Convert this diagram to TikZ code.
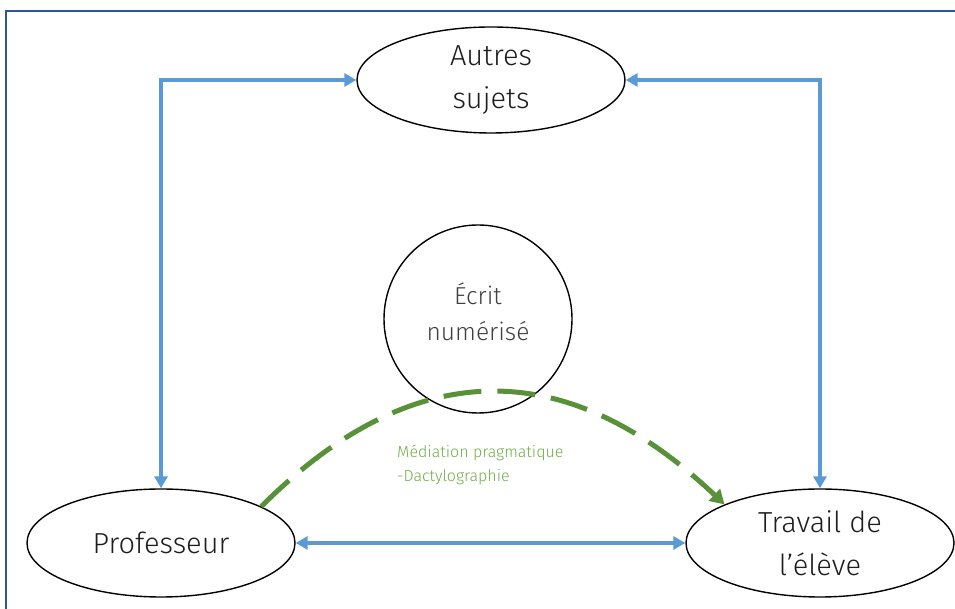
\documentclass[tikz,border=0pt]{standalone}
\usepackage{fontspec}
\setmainfont{Fira Sans}[UprightFont=* Light]
\usetikzlibrary{shapes.geometric,arrows.meta}
\definecolor{framecol}{RGB}{47,85,151}
\definecolor{bluearr}{RGB}{91,155,213}
\definecolor{greenarr}{RGB}{88,145,56}
\definecolor{greentxt}{RGB}{112,173,71}
\definecolor{txt}{RGB}{30,30,30}
\tikzset{
  oval/.style={ellipse, draw=black, line width=1.4pt, inner sep=0pt, align=center,
     minimum width=268pt, minimum height=108pt, text=txt, font=\fontsize{29}{43}\selectfont},
  rond/.style={circle, draw=black, line width=1.4pt, inner sep=0pt, minimum size=188pt},
  rondtxt/.style={align=center, inner sep=0pt, text=txt!85, font=\fontsize{24.5}{36}\selectfont},
  bluelink/.style={bluearr, line width=4.8pt, {Triangle[length=12pt,width=13pt]}-{Triangle[length=12pt,width=13pt]}},
  greenlink/.style={greenarr, line width=5pt, dash pattern=on 38pt off 16pt, -{Triangle[length=14pt,width=16pt]}},
  lbl/.style={text=greentxt, align=left, anchor=west, inner sep=0pt, font=\fontsize{16}{24}\selectfont}
}
\begin{document}
\begin{tikzpicture}[x=1pt,y=1pt]
\useasboundingbox (0,0) rectangle (955,609);
\draw[framecol, line width=1.6pt] (6,0) -- (6,598) -- (955,598);
\node[oval, minimum height=106pt] (autres) at (491,529) {Autres\\sujets};
\node[rond] (ecrit) at (478,290) {};
\node[rondtxt] (ecrittxt) at ([yshift=7pt]ecrit.center) {Écrit\\numérisé};
\node[oval] (prof) at (161,66) {Professeur};
\node[oval] (trav) at (820,66) {Travail de\\l’élève};
\coordinate (gc1) at (413,254);
\coordinate (gc2) at (566,255);
\draw[bluelink] (prof.north) |- (autres.west);
\draw[bluelink] (autres.east) -| (trav.north);
\draw[bluelink] (prof.east) -- (trav.west);
\draw[greenlink] (prof.20) .. controls (gc1) and (gc2) .. (trav.158);
\node[lbl] (med) at (397,144) {Médiation pragmatique\\-Dactylographie};
\end{tikzpicture}
\end{document}
